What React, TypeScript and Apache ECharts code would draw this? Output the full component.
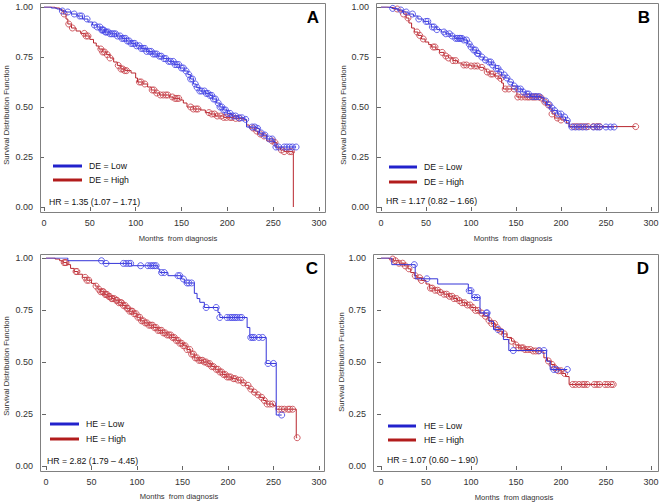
import React, { useEffect, useRef } from "react";
import * as echarts from "echarts";

// ---------- DATA ----------
const X_TICKS = [0, 50, 100, 150, 200, 250, 300];
const Y_TICKS = [0, 0.25, 0.5, 0.75, 1];
const PANEL_LETTERS = ["A", "B", "C", "D"];
const GROUP_VARS = ["DE", "DE", "HE", "HE"];
const HR_TEXTS = [
  "HR = 1.35 (1.07 \u2013 1.71)",
  "HR = 1.17 (0.82 \u2013 1.66)",
  "HR = 2.82 (1.79 \u2013 4.45)",
  "HR = 1.07 (0.60 \u2013 1.90)",
];

// Panel A
const A_LOW_STEPS = [[0,1],[8,0.995],[14,0.99],[19,0.98],[24,0.975],[30,0.965],[36,0.955],[42,0.94],[48,0.925],[53,0.91],[58,0.9],[62,0.885],[66,0.875],[72,0.866],[79,0.855],[85,0.843],[90,0.83],[95,0.818],[100,0.806],[106,0.793],[112,0.778],[118,0.765],[124,0.754],[130,0.742],[136,0.728],[142,0.712],[148,0.695],[153,0.68],[157,0.662],[160,0.64],[163,0.615],[166,0.598],[170,0.58],[176,0.568],[181,0.558],[184,0.54],[188,0.52],[192,0.5],[196,0.485],[200,0.468],[205,0.455],[212,0.446],[219,0.438],[221,0.4],[232,0.393],[235,0.37],[239,0.36],[243,0.34],[250,0.328],[252,0.3]];
const A_LOW_END = 275;
const A_LOW_CENSOR = [20,26,33,39,41,47,55,58,61,63,64,65,67,68,70,72,74,76,78,80,83,85,87,89,91,93,95,97,99,101,104,106,108,110,112,115,117,119,121,123,126,128,131,133,136,138,141,143,145,147,150,152,155,158,160,162,165,167,170,172,175,177,179,181,183,185,187,190,192,194,196,198,200,203,206,209,213,216,220,227,230,233,237,241,246,249,253,256,262,265,268,271,275];
const A_HIGH_STEPS = [[0,1],[12,0.995],[17,0.985],[21,0.965],[24,0.94],[26,0.915],[30,0.895],[35,0.88],[40,0.868],[45,0.855],[50,0.838],[54,0.82],[57,0.805],[60,0.79],[64,0.775],[68,0.762],[72,0.745],[76,0.725],[80,0.708],[84,0.69],[88,0.682],[95,0.67],[100,0.645],[102,0.625],[108,0.615],[113,0.6],[117,0.585],[121,0.57],[126,0.56],[137,0.55],[141,0.543],[148,0.535],[152,0.52],[156,0.5],[163,0.49],[171,0.485],[176,0.472],[181,0.465],[187,0.455],[196,0.448],[207,0.443],[218,0.435],[221,0.41],[224,0.395],[230,0.38],[233,0.365],[239,0.355],[243,0.33],[250,0.322],[254,0.295],[258,0.285],[262,0.277],[272,0]];
const A_HIGH_END = 272;
const A_HIGH_CENSOR = [22,27,31,44,46,48,62,64,66,69,72,81,84,86,88,90,104,106,110,118,120,123,127,130,133,135,140,143,145,147,160,163,166,168,180,183,186,189,193,196,199,203,205,209,213,228,232,236,240,249,252,259,262,268,270];

// Panel B
const B_LOW_STEPS = [[0,1],[6,0.998],[12,0.993],[18,0.985],[24,0.975],[30,0.965],[36,0.955],[41,0.94],[47,0.928],[53,0.915],[56,0.9],[62,0.887],[67,0.875],[72,0.866],[77,0.855],[82,0.843],[92,0.835],[96,0.815],[99,0.8],[102,0.785],[106,0.768],[110,0.75],[114,0.735],[119,0.725],[123,0.71],[127,0.693],[131,0.675],[134,0.66],[138,0.645],[142,0.625],[146,0.605],[152,0.59],[157,0.575],[161,0.565],[166,0.552],[178,0.548],[181,0.53],[184,0.512],[188,0.495],[191,0.482],[196,0.465],[201,0.45],[205,0.432],[209,0.4]];
const B_LOW_END = 259;
const B_LOW_CENSOR = [13,22,28,35,42,50,52,57,59,62,70,72,76,79,83,85,87,88,90,92,95,98,100,103,105,107,108,112,116,120,122,124,128,130,133,137,140,144,148,152,155,158,162,164,168,171,173,176,183,187,190,193,197,200,204,207,212,216,220,224,228,236,240,243,250,255,259];
const B_HIGH_STEPS = [[0,1],[8,0.997],[14,0.99],[20,0.98],[25,0.965],[28,0.945],[31,0.92],[34,0.895],[37,0.875],[41,0.858],[45,0.84],[49,0.825],[53,0.812],[56,0.8],[61,0.787],[65,0.773],[70,0.755],[75,0.745],[80,0.732],[85,0.72],[90,0.71],[100,0.705],[108,0.698],[114,0.69],[117,0.675],[121,0.665],[126,0.655],[131,0.643],[134,0.62],[136,0.59],[150,0.588],[151,0.55],[177,0.545],[180,0.525],[183,0.51],[187,0.49],[190,0.465],[193,0.445],[200,0.435],[206,0.42],[209,0.402]];
const B_HIGH_END = 283;
const B_HIGH_CENSOR = [18,25,30,40,43,47,58,60,68,72,75,80,83,92,95,100,104,107,112,118,122,124,130,133,138,142,148,152,156,160,163,165,168,170,172,175,178,182,186,190,196,200,214,218,222,226,230,236,240,243,283];

// Panel C
const C_LOW_STEPS = [[0,1],[24,0.987],[63,0.974],[94,0.963],[123,0.947],[125,0.93],[134,0.915],[149,0.899],[152,0.88],[163,0.83],[166,0.805],[169,0.787],[174,0.762],[189,0.738],[191,0.714],[221,0.666],[224,0.618],[242,0.493],[253,0.245]];
const C_LOW_END = 259;
const C_LOW_CENSOR = [61,66,85,88,91,93,104,112,115,117,119,121,127,130,145,147,151,155,157,160,176,187,191,199,202,204,206,208,210,213,215,225,227,229,234,238,244,250,259];
const C_HIGH_STEPS = [[0,1],[10,0.995],[15,0.987],[19,0.978],[23,0.968],[27,0.95],[31,0.935],[35,0.922],[40,0.907],[45,0.893],[50,0.878],[54,0.865],[57,0.85],[60,0.838],[64,0.825],[68,0.815],[72,0.805],[76,0.797],[80,0.785],[84,0.772],[88,0.758],[92,0.744],[96,0.732],[100,0.715],[104,0.698],[108,0.688],[113,0.677],[118,0.666],[123,0.652],[128,0.64],[133,0.63],[138,0.618],[143,0.604],[147,0.59],[151,0.578],[155,0.56],[159,0.538],[163,0.52],[168,0.508],[173,0.5],[178,0.492],[182,0.478],[186,0.465],[190,0.452],[194,0.44],[198,0.428],[204,0.42],[210,0.413],[215,0.4],[219,0.388],[223,0.37],[227,0.355],[231,0.342],[235,0.33],[239,0.315],[242,0.298],[250,0.29],[253,0.273],[275,0.136]];
const C_HIGH_END = 276;
const C_HIGH_CENSOR = [20,21,22,33,34,43,45,47,55,58,60,62,63,65,66,67,69,70,72,73,75,77,78,80,82,83,85,87,89,90,92,94,95,97,99,101,103,105,107,109,111,113,115,117,119,121,123,125,127,129,131,133,135,137,139,141,143,145,147,149,151,153,155,158,160,162,164,166,168,170,172,174,176,178,180,182,184,187,189,191,193,195,197,199,201,203,206,208,211,214,217,222,225,229,233,237,240,243,246,249,256,259,262,266,268,271,276];

// Panel D
const D_LOW_STEPS = [[0,1],[12,0.968],[38,0.9],[63,0.875],[97,0.843],[101,0.81],[110,0.736],[120,0.696],[125,0.656],[136,0.608],[142,0.555],[184,0.504],[188,0.464]];
const D_LOW_END = 207;
const D_LOW_CENSOR = [37,51,98,100,104,107,117,118,130,147,176,181,192,195,207];
const D_HIGH_STEPS = [[0,1],[9,0.995],[14,0.987],[20,0.975],[26,0.962],[30,0.948],[33,0.93],[37,0.915],[40,0.905],[45,0.892],[50,0.875],[54,0.855],[60,0.845],[65,0.835],[70,0.826],[75,0.816],[80,0.805],[85,0.795],[90,0.785],[95,0.774],[100,0.762],[105,0.748],[109,0.735],[114,0.72],[119,0.7],[123,0.685],[127,0.665],[131,0.648],[135,0.635],[140,0.618],[145,0.6],[149,0.582],[153,0.568],[160,0.56],[168,0.553],[178,0.548],[181,0.52],[185,0.505],[189,0.488],[193,0.472],[197,0.458],[201,0.445],[205,0.43],[209,0.392]];
const D_HIGH_END = 258;
const D_HIGH_CENSOR = [13,16,20,24,27,31,38,43,45,55,57,60,63,66,70,73,76,79,81,84,87,90,93,96,99,102,105,108,112,116,120,123,126,129,133,137,145,150,153,156,158,160,163,166,169,172,175,186,190,193,197,200,204,213,216,220,224,226,229,237,240,243,249,252,256,258];

// ---------- LAYOUT ----------
const FONT = '"Liberation Sans", Arial, sans-serif';
const BLUE_LINE = "#3434d8";
const BLUE_MARK = "#4848e6";
const RED_LINE = "#b8262e";
const RED_MARK = "#c8444c";
const LEG_BLUE = "#2222cc";
const LEG_RED = "#b21c1c";

const LAYOUT = [
  { grid: { left: 44, top: 7, width: 275, height: 200 }, frame: { x: 40, y: 3, w: 285, h: 209 }, letter: [313, 17], yTitle: [6, 115], xTitle: [178, 238], leg: { x1: 53, x2: 82, y1: 166, y2: 180, tx: 89 }, hr: [49, 202] },
  { grid: { left: 381, top: 7, width: 270, height: 200 }, frame: { x: 376, y: 3, w: 282, h: 209 }, letter: [644, 17], yTitle: [343, 115], xTitle: [513, 238], leg: { x1: 389, x2: 417, y1: 167, y2: 182, tx: 424 }, hr: [386, 201] },
  { grid: { left: 46, top: 258, width: 273, height: 208 }, frame: { x: 40, y: 254, w: 284, h: 217 }, letter: [312, 268], yTitle: [6, 366], xTitle: [179, 496], leg: { x1: 50, x2: 79, y1: 424, y2: 439, tx: 86 }, hr: [47, 461] },
  { grid: { left: 381, top: 258, width: 270, height: 208 }, frame: { x: 373, y: 254, w: 285, h: 217 }, letter: [643, 268], yTitle: [341, 362], xTitle: [514, 497], leg: { x1: 388, x2: 416, y1: 426, y2: 440, tx: 424 }, hr: [387, 460] },
];

const CURVES = [
  { low: [A_LOW_STEPS, A_LOW_END, A_LOW_CENSOR], high: [A_HIGH_STEPS, A_HIGH_END, A_HIGH_CENSOR] },
  { low: [B_LOW_STEPS, B_LOW_END, B_LOW_CENSOR], high: [B_HIGH_STEPS, B_HIGH_END, B_HIGH_CENSOR] },
  { low: [C_LOW_STEPS, C_LOW_END, C_LOW_CENSOR], high: [C_HIGH_STEPS, C_HIGH_END, C_HIGH_CENSOR] },
  { low: [D_LOW_STEPS, D_LOW_END, D_LOW_CENSOR], high: [D_HIGH_STEPS, D_HIGH_END, D_HIGH_CENSOR] },
];

function survAt(steps: number[][], t: number): number {
  let s = 1;
  for (const [tt, v] of steps) {
    if (tt <= t) s = v;
    else break;
  }
  return s;
}

function buildOption() {
  const grids: any[] = [];
  const xAxes: any[] = [];
  const yAxes: any[] = [];
  const series: any[] = [];
  const graphic: any[] = [];

  LAYOUT.forEach((L, i) => {
    grids.push({ ...L.grid, containLabel: false });
    const offX = L.frame.y + L.frame.h - (L.grid.top + L.grid.height);
    const offY = L.grid.left - L.frame.x;
    xAxes.push({
      type: "value", gridIndex: i, min: 0, max: 300, interval: 50, offset: offX,
      axisLine: { show: false },
      axisTick: { show: true, length: 4, lineStyle: { color: "#666" } },
      axisLabel: { fontSize: 9, color: "#333", fontFamily: FONT, margin: 6,
        customValues: X_TICKS },
      splitLine: { show: false },
    });
    yAxes.push({
      type: "value", gridIndex: i, min: 0, max: 1, interval: 0.25, offset: offY,
      axisLine: { show: false },
      axisTick: { show: true, length: 4, lineStyle: { color: "#666" } },
      axisLabel: { fontSize: 9, color: "#333", fontFamily: FONT, margin: 7,
        formatter: (v: number) => v.toFixed(2), customValues: Y_TICKS },
      splitLine: { show: false },
    });

    const groups: [string, any[], string, string][] = [
      ["Low", CURVES[i].low, BLUE_LINE, BLUE_MARK],
      ["High", CURVES[i].high, RED_LINE, RED_MARK],
    ];
    groups.forEach(([name, [steps, end, censor], lc, mc]) => {
      const last = steps[steps.length - 1];
      const lineData = steps.map((p: number[]) => [p[0], p[1]]);
      if (end > last[0]) lineData.push([end, last[1]]);
      series.push({
        type: "line", name: GROUP_VARS[i] + " = " + name, xAxisIndex: i, yAxisIndex: i,
        data: lineData, step: "end", showSymbol: false, symbol: "none",
        lineStyle: { color: lc, width: 1 }, z: name === "Low" ? 3 : 2,
      });
      series.push({
        type: "scatter", xAxisIndex: i, yAxisIndex: i,
        data: censor.map((t: number) => [t, survAt(steps, t)]),
        symbol: "circle", symbolSize: 6,
        itemStyle: { color: "rgba(255,255,255,0)", borderColor: mc, borderWidth: 1, opacity: 0.85 },
        z: name === "Low" ? 3 : 2,
      });
    });

    // frame
    graphic.push({ type: "rect", shape: { x: L.frame.x + 0.5, y: L.frame.y + 0.5, width: L.frame.w, height: L.frame.h },
      style: { fill: "none", stroke: "#808080", lineWidth: 1 }, z: 10 });
    // panel letter
    graphic.push({ type: "text", x: L.letter[0], y: L.letter[1],
      style: { text: PANEL_LETTERS[i], fontSize: 17, fontWeight: "bold", fill: "#000", fontFamily: FONT, align: "center", verticalAlign: "middle" }, z: 10 });
    // axis titles
    graphic.push({ type: "text", x: L.yTitle[0], y: L.yTitle[1], rotation: Math.PI / 2,
      style: { text: "Survival Distribution Function", fontSize: 7.7, fill: "#333", fontFamily: FONT, align: "center", verticalAlign: "middle" }, z: 10 });
    graphic.push({ type: "text", x: L.xTitle[0], y: L.xTitle[1],
      style: { text: "Months  from diagnosis", fontSize: 7.6, fill: "#333", fontFamily: FONT, align: "center", verticalAlign: "middle" }, z: 10 });
    // legend
    graphic.push({ type: "line", shape: { x1: L.leg.x1, y1: L.leg.y1, x2: L.leg.x2, y2: L.leg.y1 }, style: { stroke: LEG_BLUE, lineWidth: 3 }, z: 10 });
    graphic.push({ type: "line", shape: { x1: L.leg.x1, y1: L.leg.y2, x2: L.leg.x2, y2: L.leg.y2 }, style: { stroke: LEG_RED, lineWidth: 3 }, z: 10 });
    graphic.push({ type: "text", x: L.leg.tx, y: L.leg.y1,
      style: { text: GROUP_VARS[i] + " = Low", fontSize: 8.7, fill: "#111", fontFamily: FONT, align: "left", verticalAlign: "middle" }, z: 10 });
    graphic.push({ type: "text", x: L.leg.tx, y: L.leg.y2,
      style: { text: GROUP_VARS[i] + " = High", fontSize: 8.7, fill: "#111", fontFamily: FONT, align: "left", verticalAlign: "middle" }, z: 10 });
    graphic.push({ type: "text", x: L.hr[0], y: L.hr[1],
      style: { text: HR_TEXTS[i], fontSize: 8.7, fill: "#111", fontFamily: FONT, align: "left", verticalAlign: "middle" }, z: 10 });
  });

  return {
    animation: false,
    backgroundColor: "#ffffff",
    grid: grids,
    xAxis: xAxes,
    yAxis: yAxes,
    series,
    graphic,
  };
}

export default function App() {
  const ref = useRef<HTMLDivElement>(null);
  useEffect(() => {
    if (!ref.current) return;
    const chart = echarts.init(ref.current, undefined, { renderer: "svg" });
    chart.setOption(buildOption() as any);
    return () => chart.dispose();
  }, []);
  return (
    <div
      ref={ref}
      style={{ position: "fixed", left: 0, top: 0, width: 662, height: 502, background: "#fff" }}
    />
  );
}
